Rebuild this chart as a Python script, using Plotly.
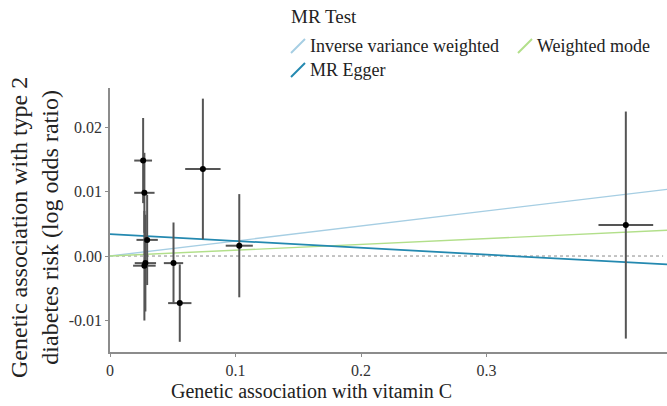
import plotly.graph_objects as go

# ---- data ----
snp_x = [0.0264, 0.0274, 0.0296, 0.0282, 0.0274, 0.0506, 0.0556, 0.0740, 0.1030, 0.411]
snp_y = [0.0148, 0.0098, 0.0025, -0.0011, -0.0015, -0.0011, -0.0073, 0.0135, 0.0016, 0.0048]
snp_se_x = [0.0071, 0.0081, 0.0085, 0.0085, 0.0090, 0.0077, 0.0093, 0.0141, 0.0108, 0.0218]
snp_se_y = [0.0066, 0.0062, 0.0070, 0.0075, 0.0085, 0.0063, 0.0060, 0.0109, 0.0080, 0.0176]

methods = ["Inverse variance weighted", "Weighted mode", "MR Egger"]
slopes = [0.0233, 0.0090, -0.0106]
intercepts = [0.0, 0.0, 0.0034]
colors = ["#a6cee3", "#b2df8a", "#2489b0"]
widths = [1.3, 1.3, 1.8]

x_ticks = [0, 0.1, 0.2, 0.3]
x_tick_labels = ["0", "0.1", "0.2", "0.3"]
y_ticks = [-0.01, 0.0, 0.01, 0.02]
y_tick_labels = ["-0.01", "0.00", "0.01", "0.02"]

x_range = [0, 0.4438]
y_range = [-0.01488, 0.02605]

FONT = "Liberation Serif, Times New Roman, Times, serif"

fig = go.Figure()

# zero reference line
fig.add_trace(go.Scatter(x=[x_range[0], x_range[1] * 0.993], y=[0, 0], mode="lines",
                         line=dict(color="#8a8a8a", width=1, dash="dot"),
                         hoverinfo="skip", showlegend=False))

# MR method lines
for name, s, b, c, w in zip(methods, slopes, intercepts, colors, widths):
    xs = [x_range[0], x_range[1]]
    ys = [b + s * v for v in xs]
    fig.add_trace(go.Scatter(x=xs, y=ys, mode="lines", name=name,
                             line=dict(color=c, width=w), showlegend=False))

# SNP points with error bars
fig.add_trace(go.Scatter(
    x=snp_x, y=snp_y, mode="markers",
    marker=dict(color="black", size=6),
    error_x=dict(type="data", array=snp_se_x, color="#555555", thickness=2, width=0),
    error_y=dict(type="data", array=snp_se_y, color="#555555", thickness=2, width=0),
    showlegend=False))

W, H = 667, 406
L, R, T, B = 110, 0, 88, 54
pw, ph = W - L - R, H - T - B

def px(xp):
    return (xp - L) / pw

def py(yp):
    return (H - B - yp) / ph

annotations = []
shapes = []

# legend (custom)
annotations.append(dict(text="MR Test", x=px(289), y=py(17), xref="paper", yref="paper",
                        xanchor="left", yanchor="middle", showarrow=False,
                        font=dict(family=FONT, size=19, color="#222")))
legend_pos = [(291, 46), (518, 46), (291, 70)]
for (lx, ly), name, c in zip(legend_pos, methods, colors):
    shapes.append(dict(type="line", xref="paper", yref="paper",
                       x0=px(lx), y0=py(ly + 7), x1=px(lx + 14), y1=py(ly - 7),
                       line=dict(color=c, width=2)))
    annotations.append(dict(text=name, x=px(lx + 17), y=py(ly), xref="paper", yref="paper",
                            xanchor="left", yanchor="middle", showarrow=False,
                            font=dict(family=FONT, size=18, color="#222")))

# axis titles
annotations.append(dict(text="Genetic association with vitamin C", x=px(311), y=py(391),
                        xref="paper", yref="paper", xanchor="center", yanchor="middle",
                        showarrow=False, font=dict(family=FONT, size=20, color="#222")))
annotations.append(dict(text="Genetic association with type 2<br>diabetes risk (log odds ratio)",
                        x=px(34), y=py(228), xref="paper", yref="paper",
                        xanchor="center", yanchor="middle", textangle=-90,
                        showarrow=False, font=dict(family=FONT, size=24, color="#222")))

fig.update_layout(
    width=W, height=H,
    margin=dict(l=L, r=R, t=T, b=B),
    paper_bgcolor="white", plot_bgcolor="white",
    showlegend=False,
    annotations=annotations, shapes=shapes,
    font=dict(family=FONT, color="#333"),
)
fig.update_xaxes(range=x_range, tickvals=x_ticks, ticktext=x_tick_labels,
                 showgrid=False, zeroline=False, showline=True, linecolor="#8c8c8c",
                 linewidth=1.5, ticks="outside", ticklen=3, tickcolor="#8c8c8c",
                 tickfont=dict(family=FONT, size=16, color="#333"))
fig.update_yaxes(range=y_range, tickvals=y_ticks, ticktext=y_tick_labels,
                 showgrid=False, zeroline=False, showline=True, linecolor="#8c8c8c",
                 linewidth=1.5, ticks="outside", ticklen=3, tickcolor="#8c8c8c",
                 tickfont=dict(family=FONT, size=16, color="#333"))

fig.write_html("out.html")
